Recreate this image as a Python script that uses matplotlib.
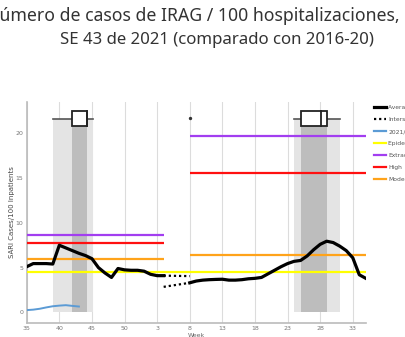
import matplotlib
matplotlib.use("Agg")
import matplotlib.pyplot as plt
from matplotlib.lines import Line2D

# Week axis: 35..52 of one year, then 1..35 of the next (position index 0..52)
week_labels = ["35", "40", "45", "50", "3", "8", "13", "18", "23", "28", "33"]
tick_pos = list(range(0, 55, 5))

# Average curve, first part (positions 0..21) and second part (positions 25..52)
avg_a_pos = list(range(0, 22))
avg_a = [5.1, 5.45, 5.45, 5.45, 5.4, 7.5, 7.2, 6.9, 6.6, 6.35, 6.0, 5.0, 4.4, 3.9,
         4.9, 4.75, 4.7, 4.7, 4.6, 4.25, 4.1, 4.1]
avg_b_pos = list(range(25, 53))
avg_b = [3.3, 3.5, 3.6, 3.65, 3.68, 3.7, 3.6, 3.6, 3.65, 3.75, 3.8, 3.9, 4.3, 4.7,
         5.1, 5.45, 5.7, 5.8, 6.3, 7.0, 7.6, 7.95, 7.8, 7.4, 6.9, 6.1, 4.2, 3.8]

# Dotted joins across the gap
join_pos = [21, 25]
join_upper = [4.1, 4.05]
join_lower = [2.85, 3.3]

# Current season 2021/22
cur_pos = list(range(0, 9))
cur = [0.25, 0.3, 0.4, 0.55, 0.68, 0.75, 0.8, 0.72, 0.65]

# Thresholds: (start, end, value) for each segment
epidemic = [(0, 52, 4.5)]
extraordinary = [(0, 21, 8.6), (25, 52, 19.7)]
high = [(0, 21, 7.8), (25, 52, 15.6)]
moderate = [(0, 21, 5.95), (25, 52, 6.45)]

# Peak timing stats: whisker low, q1, median, q3, whisker high
peak_stats = [(4.0, 6.95, 9.25, 9.25, 10.2), (41.0, 42.0, 45.1, 46.1, 48.0)]
peak_level = 21.65
outlier = (25, 21.7)

c_purple = "#a23ef0"
c_red = "#ff1010"
c_orange = "#ffa31a"
c_yellow = "#ffff00"
c_blue = "#5b9bd5"

fig = plt.figure(figsize=(4.06, 3.37), dpi=100)
ax = fig.add_axes([0.0658, 0.0424, 0.901 - 0.0658, 0.697 - 0.0424])
ax.set_xlim(0, 52)
ax.set_ylim(-1.16, 23.5)

for p in tick_pos:
    ax.axvline(p, color="#dcdcdc", lw=0.8, zorder=0)

# Peak bands
for lo, q1, med, q3, hi in peak_stats:
    ax.fill_between([lo, hi], 0, peak_level, color="#e4e4e4", lw=0, zorder=1)
    ax.fill_between([q1, q3], 0, peak_level, color="#bdbdbd", lw=0, zorder=1.1)

def hsegs(segs, color):
    for s, e, v in segs:
        ax.plot([s, e], [v, v], color=color, lw=1.6, zorder=3, solid_capstyle="butt")

hsegs(extraordinary, c_purple)
hsegs(high, c_red)
hsegs(moderate, c_orange)
hsegs(epidemic, c_yellow)

ax.plot(cur_pos, cur, color=c_blue, lw=1.4, zorder=4)
ax.plot(avg_a_pos, avg_a, color="black", lw=2.3, zorder=5, solid_joinstyle="round")
ax.plot(avg_b_pos, avg_b, color="black", lw=2.3, zorder=5, solid_joinstyle="round")
ax.plot(join_pos, join_upper, color="black", lw=1.6, ls=(0, (1, 1.3)), zorder=5)
ax.plot(join_pos, join_lower, color="black", lw=1.6, ls=(0, (1, 1.3)), zorder=5)

# Peak box plots
for lo, q1, med, q3, hi in peak_stats:
    ax.plot([lo, q1], [peak_level] * 2, color="#555555", lw=1.2, zorder=6)
    ax.plot([q3, hi], [peak_level] * 2, color="#555555", lw=1.2, zorder=6)
    ax.add_patch(plt.Rectangle((q1, peak_level - 0.85), q3 - q1, 1.7,
                               facecolor="white", edgecolor="#222222", lw=1.3, zorder=7))
    ax.plot([med, med], [peak_level - 0.85, peak_level + 0.85], color="#222222", lw=1.3, zorder=8)
ax.scatter([outlier[0]], [outlier[1]], s=2, color="#333333", zorder=8)

ax.set_xticks(tick_pos)
ax.set_xticklabels(week_labels)
ax.set_yticks([0, 5, 10, 15, 20])
ax.tick_params(length=0, labelsize=4.5, labelcolor="#777777", pad=2.5)
for side in ("top", "right"):
    ax.spines[side].set_visible(False)
for side in ("left", "bottom"):
    ax.spines[side].set_color("#bbbbbb")
    ax.spines[side].set_linewidth(1.2)
ax.set_ylabel("SARI Cases/100 Inpatients", fontsize=5, color="#444444", labelpad=0.5)
ax.set_xlabel("Week", fontsize=4.5, color="#666666", labelpad=1)

handles = [
    Line2D([], [], color="black", lw=2.3),
    Line2D([], [], color="black", lw=1.6, ls=(0, (1, 1.3))),
    Line2D([], [], color=c_blue, lw=1.6),
    Line2D([], [], color=c_yellow, lw=1.6),
    Line2D([], [], color=c_purple, lw=1.6),
    Line2D([], [], color=c_red, lw=1.6),
    Line2D([], [], color=c_orange, lw=1.6),
]
labels = ["Average curve", "Intersection", "2021/22", "Epidemic threshold",
          "Extraordinary", "High", "Moderate"]
fig.legend(handles, labels, loc="upper left", bbox_to_anchor=(0.922, 0.689),
           frameon=False, fontsize=4.3, handlelength=2.0, handletextpad=0.3,
           labelspacing=1.15, labelcolor="#555555", borderpad=0, borderaxespad=0)

fig.text(400 / 406, 1 - 16 / 337, "Número de casos de IRAG / 100 hospitalizaciones,",
         ha="right", va="center", fontsize=12.7, family="Noto Sans", color="#333333")
fig.text(217 / 406, 1 - 40 / 337, "SE 43 de 2021 (comparado con 2016-20)",
         ha="center", va="center", fontsize=12.1, family="Noto Sans", color="#333333")

fig.savefig("out.png", dpi=100)
